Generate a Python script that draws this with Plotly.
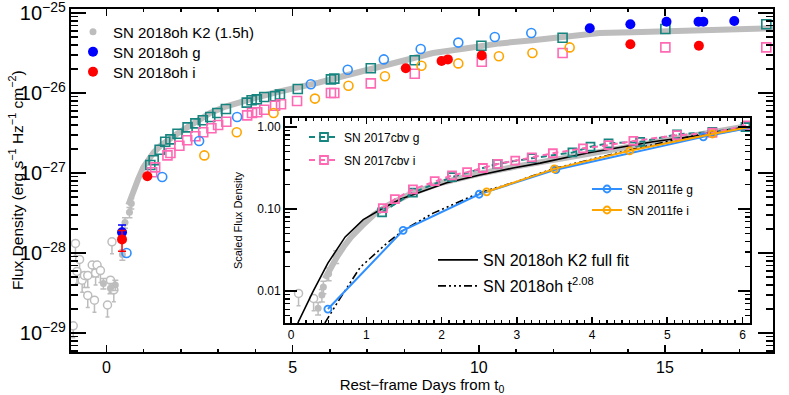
import plotly.graph_objects as go

# ---------------- MAIN PANEL (rest-frame days, log10 flux density) ----------------
k2_day = [0.59, 0.70, 0.85, 0.99, 1.10, 1.26, 1.45, 1.64, 1.90, 2.17, 2.50, 2.79, 3.20, 3.59, 4.00,
          4.48, 5.12, 5.70, 6.27, 7.16, 8.07, 8.77, 9.68, 10.56, 11.45, 12.36, 13.24, 14.13, 15.04,
          15.92, 16.80, 17.72, 17.90]
k2_logf = [-27.40, -27.25, -27.08, -26.93, -26.85, -26.75, -26.66, -26.59, -26.51, -26.43, -26.34,
           -26.25, -26.17, -26.11, -26.06, -26.00, -25.94, -25.87, -25.80, -25.69, -25.59, -25.50,
           -25.44, -25.38, -25.34, -25.29, -25.25, -25.24, -25.23, -25.21, -25.20, -25.19, -25.19]

k2e_day = [-0.08, 0.11, 0.24, 0.43, 0.50, 0.62, 0.67]
k2e_logf = [-28.38, -28.44, -28.40, -28.02, -27.62, -27.49, -27.38]

ul_day = [-0.89, -0.83, -0.79, -0.72, -0.65, -0.59, -0.50, -0.50, -0.38, -0.32, -0.29, -0.25,
          -0.16, 0.03, 0.11, 0.15, 0.20]
ul_logf = [-28.91, -27.88, -28.23, -28.08, -28.34, -28.28, -28.28, -28.53, -28.15, -28.59, -28.25,
           -28.15, -28.22, -28.65, -28.34, -27.86, -28.46]

oh_g_day = [0.42, 12.98, 14.07, 15.04, 15.90, 16.03, 16.86]
oh_g_logf = [-27.74, -25.19, -25.14, -25.11, -25.11, -25.11, -25.10]

oh_i_day = [0.42, 1.10, 8.04, 9.00, 9.17, 10.08, 14.07, 15.91]
oh_i_logf = [-27.83, -27.04, -25.69, -25.60, -25.58, -25.53, -25.39, -25.41]

fe_g_day = [0.54, 1.50, 2.49, 3.51, 5.49, 6.48, 7.45, 8.44, 9.45, 10.43, 11.41]
fe_g_logf = [-28.00, -27.05, -26.60, -26.30, -25.89, -25.71, -25.58, -25.45, -25.37, -25.30, -25.25]

fe_i_day = [2.63, 3.50, 4.49, 5.60, 6.50, 7.48, 8.46, 9.45, 10.54, 11.44, 12.44]
fe_i_logf = [-26.78, -26.49, -26.25, -26.07, -25.91, -25.79, -25.66, -25.63, -25.54, -25.50, -25.43]

cbv_g_day = [1.18, 1.27, 1.43, 1.58, 1.72, 1.91, 2.18, 2.39, 2.59, 2.79, 2.98, 3.21, 3.77, 3.90,
             4.04, 4.24, 4.53, 4.66, 5.14, 6.03, 6.12, 7.10, 8.28, 10.07, 12.25, 15.01, 17.72]
cbv_g_logf = [-26.90, -26.84, -26.71, -26.61, -26.58, -26.51, -26.43, -26.38, -26.34, -26.30, -26.25,
              -26.20, -26.12, -26.09, -26.08, -26.05, -26.04, -26.02, -25.95, -25.83, -25.82, -25.69,
              -25.59, -25.41, -25.31, -25.20, -25.14]

cbv_i_day = [1.23, 1.31, 1.64, 1.72, 1.96, 2.17, 2.39, 2.60, 2.82, 3.00, 3.22, 3.78, 3.91, 4.05,
             4.24, 4.53, 4.69, 5.12, 6.03, 6.12, 7.10, 8.28, 10.08, 12.25, 15.01, 17.72]
cbv_i_logf = [-26.99, -26.93, -26.78, -26.75, -26.66, -26.59, -26.54, -26.49, -26.44, -26.40, -26.36,
              -26.28, -26.25, -26.24, -26.21, -26.16, -26.14, -26.10, -26.00, -26.00, -25.88, -25.76,
              -25.61, -25.50, -25.43, -25.43]

# ---------------- INSET (days, log10 scaled flux) ----------------
in_k2_day = [0.45, 0.50, 0.60, 0.70, 0.80, 0.95, 1.10, 1.30, 1.60, 2.00, 2.50, 3.00, 3.50, 4.00,
             4.50, 5.00, 5.50, 6.00]
in_k2_logf = [-1.85, -1.76, -1.60, -1.46, -1.34, -1.20, -1.07, -0.95, -0.81, -0.68, -0.57, -0.48,
              -0.40, -0.31, -0.23, -0.15, -0.08, 0.00]
in_k2e_day = [0.36, 0.41, 0.43, 0.50, 0.60]
in_k2e_logf = [-2.21, -2.05, -1.95, -1.79, -1.58]
in_ul_day = [0.10, 0.30]
in_ul_logf = [-2.03, -2.09]

fit_day = [0.09, 0.29, 0.49, 0.72, 0.96, 1.22, 1.45, 1.72, 2.07, 2.51, 2.95, 3.31, 3.94, 4.81, 5.70, 6.04]
fit_logf = [-2.39, -2.01, -1.66, -1.34, -1.13, -0.99, -0.88, -0.79, -0.68, -0.585, -0.50, -0.44,
            -0.317, -0.18, -0.07, 0.00]

pow_day = [0.45, 0.61, 0.92, 1.27, 1.49, 1.89, 2.51, 2.95, 3.48, 4.50, 5.48, 6.04]
pow_logf = [-2.39, -2.15, -1.71, -1.42, -1.26, -1.05, -0.80, -0.68, -0.51, -0.28, -0.08, 0.00]

in_fe_g_day = [0.49, 1.49, 2.50, 3.52, 5.48, 6.49]
in_fe_g_logf = [-2.22, -1.26, -0.82, -0.52, -0.12, 0.06]
in_fe_i_day = [2.60, 3.50, 4.50, 5.60, 6.49]
in_fe_i_logf = [-0.79, -0.51, -0.29, -0.085, 0.065]

in_cbv_g_day = [1.21, 1.62, 2.14, 2.74, 3.20, 3.74, 3.98, 4.22, 4.64, 5.13, 5.60, 6.04]
in_cbv_g_logf = [-1.04, -0.80, -0.61, -0.45, -0.38, -0.31, -0.24, -0.20, -0.18, -0.09, -0.06, 0.00]
in_cbv_i_day = [1.22, 1.38, 1.62, 1.91, 2.14, 2.34, 2.55, 2.75, 2.98, 3.20, 3.48, 3.88, 4.22, 4.55,
                5.13, 5.60, 6.06]
in_cbv_i_logf = [-0.99, -0.88, -0.76, -0.66, -0.59, -0.55, -0.50, -0.45, -0.41, -0.37, -0.32, -0.26,
                 -0.22, -0.17, -0.10, -0.07, 0.02]

# ---------------- styling ----------------
GRAY = "#bdbdbd"
BLUE = "#0000ff"
RED = "#ff0000"
LBLUE = "#2f8fff"
ORANGE = "#ffa500"
TEAL = "#16847f"
PINK = "#ff69b4"
FONT = "Liberation Sans, Arial, Helvetica, sans-serif"


def lin(v):
    return [10 ** x for x in v]


def down(v, dex):
    return [10 ** x * (1 - 10 ** (-dex)) for x in v]


def sym(v, dex):
    return [10 ** x * (10 ** dex - 1) for x in v]


fig = go.Figure()

# ---- main panel ----
fig.add_trace(go.Scatter(x=k2_day, y=lin(k2_logf), mode="lines",
                         line=dict(color=GRAY, width=6), showlegend=False, hoverinfo="skip"))
fig.add_trace(go.Scatter(x=ul_day, y=lin(ul_logf), mode="markers", showlegend=False,
                         marker=dict(symbol="circle", size=8, color="white", line=dict(color=GRAY, width=1.5)),
                         error_y=dict(type="data", symmetric=False, array=[0] * len(ul_day),
                                      arrayminus=down(ul_logf, 0.15), color=GRAY, thickness=1.5, width=2)))
fig.add_trace(go.Scatter(x=k2e_day, y=lin(k2e_logf), mode="markers", name="SN 2018oh K2 (1.5h)",
                         marker=dict(symbol="circle", size=7, color=GRAY),
                         error_y=dict(type="data", array=sym(k2e_logf, 0.06), color=GRAY, thickness=1.5, width=3),
                         legend="legend"))
fig.add_trace(go.Scatter(x=cbv_g_day, y=lin(cbv_g_logf), mode="markers", showlegend=False,
                         marker=dict(symbol="square-open", size=9, color=TEAL, line=dict(width=1.6))))
fig.add_trace(go.Scatter(x=cbv_i_day, y=lin(cbv_i_logf), mode="markers", showlegend=False,
                         marker=dict(symbol="square-open", size=9, color=PINK, line=dict(width=1.6))))
fig.add_trace(go.Scatter(x=fe_g_day, y=lin(fe_g_logf), mode="markers", showlegend=False,
                         marker=dict(symbol="circle-open", size=9, color=LBLUE, line=dict(width=1.6))))
fig.add_trace(go.Scatter(x=fe_i_day, y=lin(fe_i_logf), mode="markers", showlegend=False,
                         marker=dict(symbol="circle-open", size=9, color=ORANGE, line=dict(width=1.6))))
fig.add_trace(go.Scatter(x=oh_g_day, y=lin(oh_g_logf), mode="markers", name="SN 2018oh g",
                         marker=dict(symbol="circle", size=10, color=BLUE),
                         error_y=dict(type="data", array=[10 ** oh_g_logf[0] * (10 ** 0.09 - 1)] + [0] * 6,
                                      color=BLUE, thickness=1.5, width=4),
                         legend="legend5"))
fig.add_trace(go.Scatter(x=oh_i_day, y=lin(oh_i_logf), mode="markers", name="SN 2018oh i",
                         marker=dict(symbol="circle", size=10, color=RED),
                         error_y=dict(type="data", array=[10 ** oh_i_logf[0] * (10 ** 0.11 - 1)] + [0] * 7,
                                      color=RED, thickness=1.5, width=4),
                         legend="legend6"))

# ---- inset ----
fig.add_trace(go.Scatter(x=in_k2_day, y=lin(in_k2_logf), mode="lines", xaxis="x2", yaxis="y2",
                         line=dict(color=GRAY, width=6), showlegend=False, hoverinfo="skip"))
fig.add_trace(go.Scatter(x=in_k2e_day, y=lin(in_k2e_logf), mode="markers", xaxis="x2", yaxis="y2",
                         marker=dict(symbol="circle", size=7, color=GRAY), showlegend=False,
                         error_y=dict(type="data", array=sym(in_k2e_logf, 0.07), color=GRAY, thickness=1.5, width=3)))
fig.add_trace(go.Scatter(x=in_ul_day, y=lin(in_ul_logf), mode="markers", xaxis="x2", yaxis="y2",
                         showlegend=False,
                         marker=dict(symbol="circle", size=8, color="white", line=dict(color=GRAY, width=1.5)),
                         error_y=dict(type="data", symmetric=False, array=[0, 0],
                                      arrayminus=down(in_ul_logf, 0.15), color=GRAY, thickness=1.5, width=2)))
fig.add_trace(go.Scatter(x=fit_day, y=lin(fit_logf), mode="lines", xaxis="x2", yaxis="y2",
                         name="SN 2018oh K2 full fit", line=dict(color="black", width=1.6),
                         legend="legend4"))
fig.add_trace(go.Scatter(x=pow_day, y=lin(pow_logf), mode="lines", xaxis="x2", yaxis="y2",
                         name="SN 2018oh t<sup>2.08</sup>",
                         line=dict(color="black", width=1.6, dash="8px,3px,2px,3px,2px,3px,2px,3px"),
                         legend="legend9"))
fig.add_trace(go.Scatter(x=in_cbv_g_day, y=lin(in_cbv_g_logf), mode="lines+markers", xaxis="x2", yaxis="y2",
                         name="SN 2017cbv g", line=dict(color=TEAL, width=2, dash="6px,4px"),
                         marker=dict(symbol="square-open", size=8, color=TEAL, line=dict(width=1.8)),
                         legend="legend2"))
fig.add_trace(go.Scatter(x=in_cbv_i_day, y=lin(in_cbv_i_logf), mode="lines+markers", xaxis="x2", yaxis="y2",
                         name="SN 2017cbv i", line=dict(color=PINK, width=2, dash="6px,4px"),
                         marker=dict(symbol="square-open", size=8, color=PINK, line=dict(width=1.8)),
                         legend="legend7"))
fig.add_trace(go.Scatter(x=in_fe_g_day, y=lin(in_fe_g_logf), mode="lines+markers", xaxis="x2", yaxis="y2",
                         name="SN 2011fe g", line=dict(color=LBLUE, width=2),
                         marker=dict(symbol="circle-open", size=7, color=LBLUE, line=dict(width=1.8)),
                         legend="legend3"))
fig.add_trace(go.Scatter(x=in_fe_i_day, y=lin(in_fe_i_logf), mode="lines+markers", xaxis="x2", yaxis="y2",
                         name="SN 2011fe i", line=dict(color=ORANGE, width=2),
                         marker=dict(symbol="circle-open", size=7, color=ORANGE, line=dict(width=1.8)),
                         legend="legend8"))

axis_common = dict(showline=True, linecolor="black", linewidth=2, mirror="allticks", ticks="inside",
                   tickcolor="black", tickwidth=1.5, showgrid=False, zeroline=False, automargin=False,
                   ticklabeloverflow="allow")

W, H = 789, 395
# plot-area geometry in pixels (used to place the axes domains, legends and the y title)
L, R, T, B = 71, 773, 9, 352


def px(x):
    return (x - L) / (R - L)


def py(y):
    return (B - y) / (B - T)


def leg(x_text, y_mid, size, iw=30, off=41):
    return dict(x=px(x_text - off), y=py(y_mid), xanchor="left", yanchor="middle",
                bgcolor="rgba(0,0,0,0)", font=dict(size=size), itemwidth=iw)


fig.update_layout(
    width=W, height=H,
    margin=dict(l=L, r=W - R, t=T, b=H - B, autoexpand=False, pad=0),
    paper_bgcolor="white", plot_bgcolor="white",
    font=dict(family=FONT, color="black"),
    hovermode=False,
    xaxis=dict(**axis_common, range=[-0.95, 17.9], tick0=0, dtick=5, ticklen=7,
               minor=dict(dtick=1, ticklen=3, ticks="inside", tickcolor="black", tickwidth=1.5),
               tickfont=dict(size=16),
               title=dict(text="Rest\u2212frame Days from t<sub>0</sub>", font=dict(size=15), standoff=2)),
    yaxis=dict(**axis_common, type="log", range=[-29.2375, -24.95], dtick=1, exponentformat="power",
               ticklen=15, minor=dict(dtick="D1", ticklen=7, ticks="inside", tickcolor="black", tickwidth=1.5),
               tickfont=dict(size=16)),
    xaxis2=dict(**axis_common, anchor="y2", domain=[px(285), px(750)], range=[-0.08, 6.1], tick0=0, dtick=1,
                ticklen=6, minor=dict(dtick=0.1, ticklen=3, ticks="inside", tickcolor="black", tickwidth=1.2),
                tickfont=dict(size=12)),
    yaxis2=dict(**axis_common, anchor="x2", domain=[py(323), py(118)], type="log", range=[-2.39, 0.11],
                dtick=1, tickformat=".2f", ticklen=12,
                minor=dict(dtick="D1", ticklen=5, ticks="inside", tickcolor="black", tickwidth=1.2),
                tickfont=dict(size=12),
                title=dict(text="Scaled Flux Density", font=dict(size=11), standoff=12)),
    legend=leg(114, 32, 15),
    legend5=leg(114, 52, 15),
    legend6=leg(114, 72, 15),
    legend2=leg(345, 137, 12),
    legend7=leg(345, 160, 12),
    legend3=leg(628, 189, 12),
    legend8=leg(628, 210, 12),
    legend4=leg(483, 260, 16, iw=40, off=50),
    legend9=leg(483, 286, 16, iw=40, off=50),
    annotations=[dict(text="Flux Density (erg s<sup>\u22121</sup> Hz<sup>\u22121</sup> cm<sup>\u22122</sup>)",
                      xref="paper", yref="paper", x=px(16), y=py(180), textangle=-90,
                      xanchor="center", yanchor="middle", showarrow=False, font=dict(size=15.5))],
)

# remove the browser's default 8px page margin so the figure sits at the window's top-left corner
fig.write_html("out.html", config={"displayModeBar": False, "staticPlot": True},
               post_script="document.body.style.margin='0px';")
